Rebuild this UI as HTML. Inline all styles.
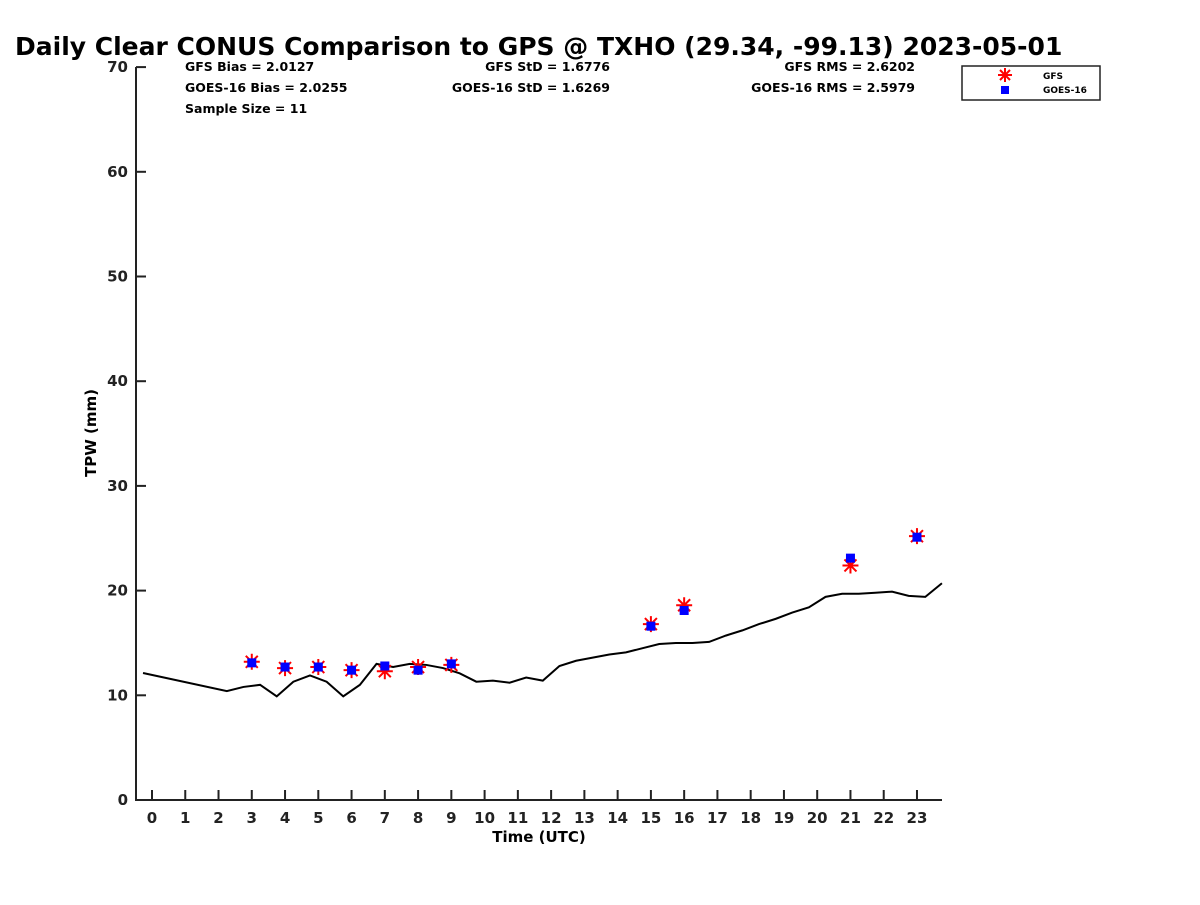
<!DOCTYPE html>
<html><head><meta charset="utf-8"><style>
body{margin:0;background:#fff;font-family:"Liberation Sans",sans-serif}
svg text{font-family:"DejaVu Sans","Liberation Sans",sans-serif;font-weight:bold}
</style></head><body>
<svg id="c" width="1200" height="900">
<text x="15" y="55" font-size="25">Daily Clear CONUS Comparison to GPS @ TXHO (29.34, -99.13) 2023-05-01</text>
<g font-size="12.5">
<text x="185" y="71">GFS Bias = 2.0127</text>
<text x="185" y="92">GOES-16 Bias = 2.0255</text>
<text x="185" y="113">Sample Size = 11</text>
<text x="610" y="71" text-anchor="end">GFS StD = 1.6776</text>
<text x="610" y="92" text-anchor="end">GOES-16 StD = 1.6269</text>
<text x="915" y="71" text-anchor="end">GFS RMS = 2.6202</text>
<text x="915" y="92" text-anchor="end">GOES-16 RMS = 2.5979</text>
</g>
<g>
<rect x="962" y="66" width="138" height="34" fill="#fff" stroke="#222" stroke-width="1.5"/>
<g stroke="red" stroke-width="2"><line x1="1005" y1="68" x2="1005" y2="82"/><line x1="998" y1="75" x2="1012" y2="75"/><line x1="1000" y1="70" x2="1010" y2="80"/><line x1="1000" y1="80" x2="1010" y2="70"/></g>
<rect x="1001" y="86" width="8" height="8" fill="blue"/>
<text x="1043" y="79" font-size="9">GFS</text>
<text x="1043" y="93" font-size="9">GOES-16</text>
</g>
<g id="axes"></g>
<text x="539" y="842" font-size="15" text-anchor="middle">Time (UTC)</text>
<text transform="translate(96,433) rotate(-90)" font-size="15" text-anchor="middle">TPW (mm)</text>
</svg>
<script>
const lineX=[-0.27,2.25,2.75,3.25,3.75,4.25,4.75,5.25,5.75,6.25,6.75,7.25,7.75,8.25,8.75,9.25,9.75,10.25,10.75,11.25,11.75,12.25,12.75,13.25,13.75,14.25,14.75,15.25,15.75,16.25,16.75,17.25,17.75,18.25,18.75,19.25,19.75,20.25,20.75,21.25,21.75,22.25,22.75,23.25,23.75];
const lineY=[12.13,10.4,10.8,11.0,9.9,11.3,11.9,11.3,9.9,11.0,13.0,12.7,13.0,12.9,12.6,12.1,11.3,11.4,11.2,11.7,11.4,12.8,13.3,13.6,13.9,14.1,14.5,14.9,15.0,15.0,15.1,15.7,16.2,16.8,17.3,17.9,18.4,19.4,19.7,19.7,19.8,19.9,19.5,19.4,20.7];
const hours=[3,4,5,6,7,8,9,15,16,21,23];
const gfs=[13.2,12.6,12.7,12.4,12.3,12.7,12.9,16.8,18.6,22.4,25.2];
const goes=[13.1,12.7,12.7,12.4,12.8,12.4,13.0,16.6,18.1,23.1,25.1];
const xTicks=[0,1,2,3,4,5,6,7,8,9,10,11,12,13,14,15,16,17,18,19,20,21,22,23];
const yTicks=[0,10,20,30,40,50,60,70];
const NS="http://www.w3.org/2000/svg";
const X=v=>152+(v)*33.26, Y=v=>800-v*10.47;
const g=document.getElementById('axes');
function mk(t,a){const e=document.createElementNS(NS,t);for(const k in a)e.setAttribute(k,a[k]);g.appendChild(e);return e;}
let e=mk('path',{d:'M136,67 V800 H942',fill:'none',stroke:'#222','stroke-width':2});


xTicks.forEach(t=>{mk('line',{x1:X(t),x2:X(t),y1:800,y2:790,stroke:'#222','stroke-width':2});
 const s=mk('text',{x:X(t),y:823,'font-size':15,'text-anchor':'middle',fill:'#222'});s.textContent=t;
 
 });
yTicks.forEach(t=>{mk('line',{x1:136,x2:146,y1:Y(t),y2:Y(t),stroke:'#222','stroke-width':2});
 const s=mk('text',{x:128,y:Y(t)+5,'font-size':15,'text-anchor':'end',fill:'#222'});s.textContent=t;
 
 });
const l=mk('polyline',{points:lineX.map((x,i)=>X(x)+','+Y(lineY[i])).join(' '),fill:'none',stroke:'#000','stroke-width':2});


hours.forEach((h,i)=>{const cx=X(h),cy=Y(gfs[i]);
 const p=mk('path',{d:`M${cx},${cy-8}V${cy+8}M${cx-8},${cy}H${cx+8}M${cx-6},${cy-6}L${cx+6},${cy+6}M${cx-6},${cy+6}L${cx+6},${cy-6}`,stroke:'red','stroke-width':2});
 
 });
hours.forEach((h,i)=>{const r=mk('rect',{x:X(h)-4.5,y:Y(goes[i])-4.5,width:9,height:9,fill:'blue'});
 
 });
</script>
</body></html>
